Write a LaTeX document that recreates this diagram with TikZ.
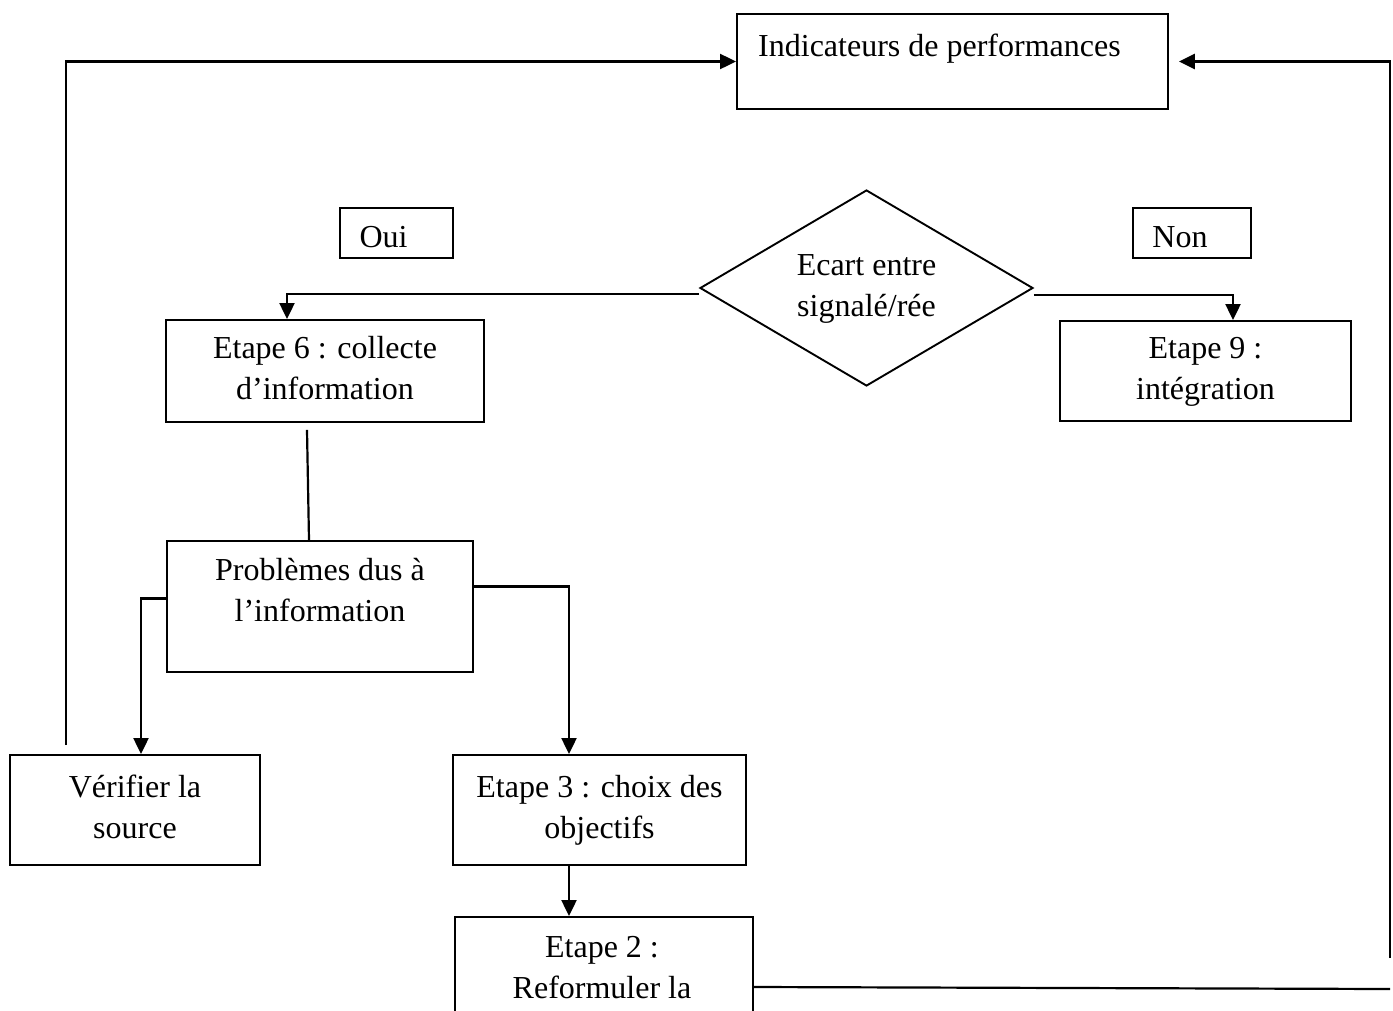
\documentclass[tikz,border=0pt]{standalone}
\usepackage{fontspec}
\setmainfont{Liberation Serif}
\usetikzlibrary{arrows.meta,shapes.geometric}

\begin{document}
\begin{tikzpicture}[
  x=1pt, y=-1pt,
  every node/.style={font=\fontsize{32}{41}\selectfont, inner sep=0pt, align=center},
  stepbox/.style={draw, line width=1.9pt, rectangle},
  decision/.style={draw, line width=1.9pt, diamond, aspect=1.7},
  txt/.style={},
  link/.style={line width=2.2pt},
  arr/.style={link, -{Triangle[length=16pt,width=15pt]}},
]
% page frame
\clip (0,0) rectangle (1393,1010);
\fill[white] (0,0) rectangle (1393,1010);

% boxes
\node[stepbox, minimum width=431pt, minimum height=95pt] (ind) at (952.5,61.5) {};
\node[txt, anchor=west] (indtext) at (758,47.8) {\strut Indicateurs de performances};

\node[stepbox, minimum width=113pt, minimum height=50pt] (oui) at (396.5,233) {};
\node[txt] (ouitext) at (383.5,238.8) {\strut Oui};

\node[stepbox, minimum width=118pt, minimum height=50pt] (non) at (1192,233) {};
\node[txt] (nontext) at (1180,238.8) {\strut Non};

\node[decision, minimum width=333pt, minimum height=196pt] (dia) at (866.5,288)
  {\strut Ecart entre\\\strut signalé/rée};

\node[stepbox, minimum width=318pt, minimum height=102pt] (e6) at (325,371)
  {\strut Etape 6 : collecte\\\strut d’information};

\node[stepbox, minimum width=291pt, minimum height=100pt] (e9) at (1205.5,371)
  {\strut Etape 9 :\\\strut intégration};

\node[stepbox, minimum width=306pt, minimum height=131pt] (prob) at (320,606.5) {};
\node[txt] (probtext) at (320,592.3) {\strut Problèmes dus à\\\strut l’information};

\node[stepbox, minimum width=250pt, minimum height=110pt] (ver) at (135,810)
  {\strut Vérifier la\\\strut source};

\node[stepbox, minimum width=293pt, minimum height=110pt] (e3) at (599.5,810)
  {\strut Etape 3 : choix des\\\strut objectifs};

\node[stepbox, minimum width=298pt, minimum height=140pt] (e2) at (604,987) {};
\node[txt] (e2text) at (602,969.3) {\strut Etape 2 :\\\strut Reformuler la};

% free ends of the loop lines
\coordinate (lstart) at (66,745);
\coordinate (rstart) at (1390,958);
\coordinate (rend) at (1390,989);

% connectors
\draw[arr] (lstart) |- (ind.west);
\draw[arr, line width=2.6pt, shorten >=10pt] (rstart) |- (ind.east);
\draw[link] (e2.east) -- (rend);

\draw[arr] ([yshift=-6pt]dia.west) -| ([xshift=-38pt]e6.north);
\draw[arr] ([yshift=-7pt]dia.east) -| ([xshift=27.5pt]e9.north);

\draw[link] ([xshift=-18pt,yshift=-7pt]e6.south) -- ([xshift=-11pt]prob.north);

\draw[arr] ([yshift=8pt]prob.west) -| ([xshift=6pt]ver.north);
\draw[arr] ([yshift=20pt]prob.east) -| ([xshift=-30.5pt]e3.north);
\draw[arr] ([xshift=-30.5pt]e3.south) -- ([xshift=-30.5pt]e3.south |- e2.north);
\end{tikzpicture}
\end{document}
